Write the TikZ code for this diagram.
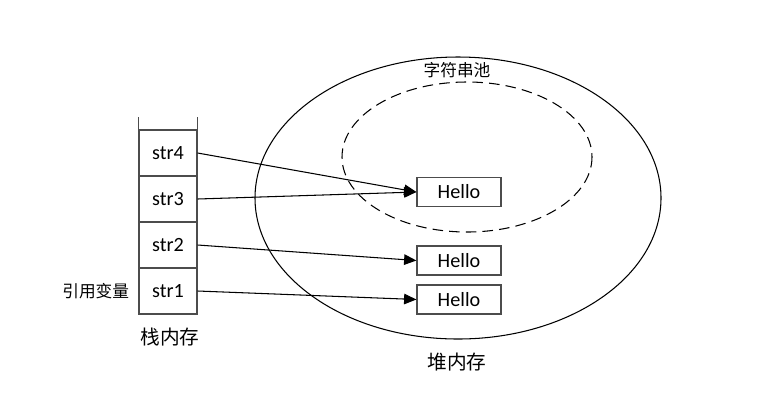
\documentclass[tikz,border=0pt]{standalone}
\usepackage{fontspec}
\setmainfont{Carlito}
\newfontfamily\cjk{Noto Sans CJK SC}
\usepackage{tikz}
\usetikzlibrary{arrows.meta,positioning}
\tikzset{
  cell/.style={ draw=black!70, line width=0.7pt, minimum width=1.16cm, minimum height=0.92cm, inner sep=0pt, font=\fontsize{11.5}{14}\selectfont }
}
\tikzset{
  strbox/.style={ draw=black!70, line width=0.7pt, minimum width=1.68cm, minimum height=0.58cm, inner sep=0pt, font=\fontsize{11.5}{14}\selectfont }
}
\tikzset{
  small/.style={ font=\cjk\fontsize{9.5}{12}\selectfont, inner sep=0pt }
}
\tikzset{
  big/.style={ font=\cjk\fontsize{11.2}{14}\selectfont, inner sep=0pt }
}

\begin{document}
\begin{tikzpicture}[x=0.02cm, y=-0.02cm, line width=0.6pt]
      \useasboundingbox (0,0) rectangle (780,400);

      % heap and string pool
      \draw (458,198) ellipse [x radius=203, y radius=141];
      \draw[dashed, dash pattern=on 6pt off 3.5pt] (467,157) ellipse [x radius=125, y radius=75];
      \node[small] (pool) at (457,70) {字符串池};
      \node[big] (heap) at (457,362) {堆内存};

      % stack
      \node[cell] (str4) at (168,153) {str4};
      \node[cell] (str3) at (168,199) {str3};
      \node[cell] (str2) at (168,245) {str2};
      \node[cell] (str1) at (168,291) {str1};
      \draw[draw=black!70, line width=0.7pt] (str4.north west) -- ++(0,-12);
      \draw[draw=black!70, line width=0.7pt] (str4.north east) -- ++(0,-12);
      \node[small, left=5pt of str1] (ref) {引用变量};
      \node[big] (stack) at (170,337) {栈内存};

      % strings
      \node[strbox] (H1) at (459,192) {Hello};
      \node[strbox] (H2) at (459,260.5) {Hello};
      \node[strbox] (H3) at (459,299.5) {Hello};

      \begin{scope}[-{Triangle[length=7pt, width=6pt]}]
        \draw (str4.east) -- (H1.west);
        \draw (str3.east) -- (H1.west);
        \draw (str2.east) -- (H2.west);
        \draw (str1.east) -- (H3.west);
      \end{scope}
    \end{tikzpicture}
\end{document}
